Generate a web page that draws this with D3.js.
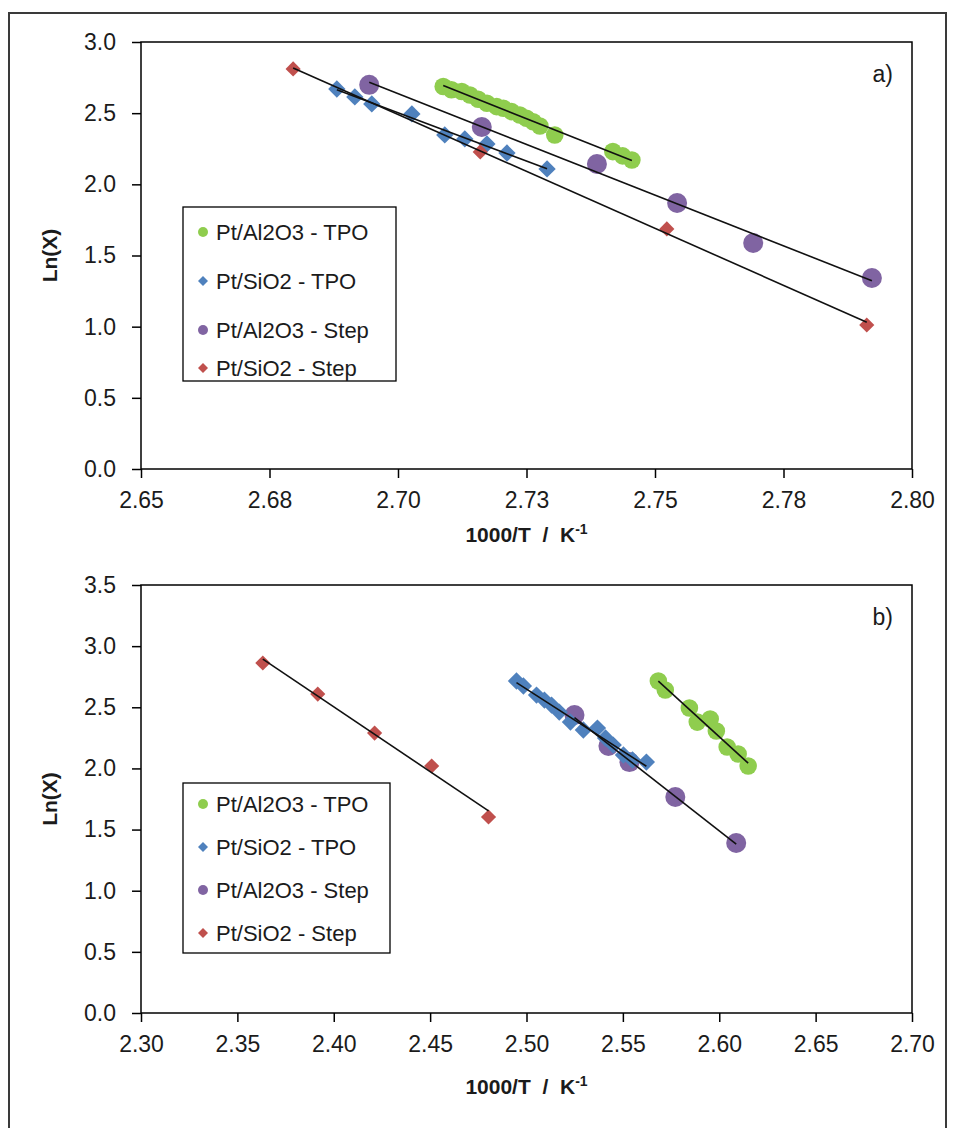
<!DOCTYPE html>
<html>
<head>
<meta charset="utf-8">
<script src="https://cdn.jsdelivr.net/npm/d3@7"></script>
<style>
  body { margin: 0; background: #fff; }
  svg text { font-family: "Liberation Sans", Arial, sans-serif; fill: #1b1b1b; }
  .tick text { font-size: 23px; }
</style>
</head>
<body>
<div id="chart"></div>
<script>
// legend order
const seriesNames = ["Pt/Al2O3 - TPO", "Pt/SiO2 - TPO", "Pt/Al2O3 - Step", "Pt/SiO2 - Step"];
const seriesColors = ["#8fcd4e", "#4f81bd", "#8064a2", "#c0504d"];
const seriesShapes = ["circle", "diamond", "circle", "diamond"];

// panel a)  [1000/T, Ln(X)]
const aAlTpo = [[2.7088,2.687],[2.7104,2.664],[2.7124,2.652],[2.7140,2.628],[2.7156,2.598],[2.7173,2.570],
  [2.7192,2.546],[2.7205,2.535],[2.7221,2.511],[2.7237,2.487],[2.7250,2.464],[2.7263,2.440],[2.7276,2.410],
  [2.7305,2.347],[2.7418,2.230],[2.7437,2.200],[2.7455,2.171]];
const aSiTpo = [[2.6881,2.670],[2.6916,2.614],[2.6949,2.565],[2.7027,2.495],[2.7091,2.347],[2.7130,2.319],
  [2.7173,2.284],[2.7212,2.220],[2.7290,2.108]];
const aAlStep = [[2.6944,2.699],[2.7163,2.403],[2.7387,2.143],[2.7543,1.869],[2.7691,1.588],[2.7922,1.342]];
const aSiStep = [[2.6796,2.811],[2.7160,2.228],[2.7523,1.687],[2.7912,1.012]];

// panel b)
const bAlTpo = [[2.5684,2.715],[2.5720,2.641],[2.5845,2.494],[2.5886,2.379],[2.5953,2.404],[2.5985,2.306],
  [2.6041,2.175],[2.6098,2.118],[2.6150,2.020]];
const bSiTpo = [[2.4948,2.715],[2.4984,2.674],[2.5052,2.600],[2.5093,2.559],[2.5130,2.518],[2.5170,2.461],
  [2.5228,2.379],[2.5295,2.314],[2.5368,2.330],[2.5410,2.249],[2.5450,2.191],[2.5503,2.110],[2.5550,2.069],
  [2.5622,2.052]];
const bAlStep = [[2.5249,2.437],[2.5425,2.183],[2.5534,2.052],[2.5772,1.766],[2.6088,1.390]];
const bSiStep = [[2.3632,2.862],[2.3917,2.608],[2.4212,2.289],[2.4508,2.020],[2.4803,1.603]];

// ticks
const aXTicks = [2.65, 2.675, 2.70, 2.725, 2.75, 2.775, 2.80];
const aXLabels = ["2.65", "2.68", "2.70", "2.73", "2.75", "2.78", "2.80"];
const aYTicks = [0, 0.5, 1.0, 1.5, 2.0, 2.5, 3.0];
const bXTicks = [2.30, 2.35, 2.40, 2.45, 2.50, 2.55, 2.60, 2.65, 2.70];
const bXLabels = ["2.30", "2.35", "2.40", "2.45", "2.50", "2.55", "2.60", "2.65", "2.70"];
const bYTicks = [0, 0.5, 1.0, 1.5, 2.0, 2.5, 3.0, 3.5];

const W = 956, H = 1128;

const svg = d3.select("#chart").append("svg")
    .attr("width", W)
    .attr("height", H);

svg.append("rect").attr("width", W).attr("height", H).attr("fill", "#fff");

// outer frame (bottom edge runs off the picture)
svg.append("rect")
    .attr("x", 9).attr("y", 13)
    .attr("width", 937).attr("height", H + 20)
    .attr("fill", "none")
    .attr("stroke", "#3a3a3a")
    .attr("stroke-width", 2);

const panels = [
    {tag: "a)", series: [aAlTpo, aSiTpo, aAlStep, aSiStep], xDomain: [2.65, 2.80], yDomain: [0, 3],
     xTicks: aXTicks, xLabels: aXLabels, yTicks: aYTicks,
     left: 141, right: 912, top: 42, bottom: 469,
     legend: {x: 183, y: 207, w: 213, h: 174, rows: [232, 281, 330, 368]}},
    {tag: "b)", series: [bAlTpo, bSiTpo, bAlStep, bSiStep], xDomain: [2.30, 2.70], yDomain: [0, 3.5],
     xTicks: bXTicks, xLabels: bXLabels, yTicks: bYTicks,
     left: 141, right: 912, top: 585, bottom: 1013,
     legend: {x: 183, y: 783, w: 207, h: 170, rows: [804, 847, 890, 933]}}
];

function markerPath(shape, big) {
    if (shape === "circle") return d3.symbol(d3.symbolCircle, big ? Math.PI * 9.5 * 9.5 : Math.PI * 5 * 5)();
    return d3.symbol(d3.symbolSquare, big ? 150 : 50)();
}
// per series marker size on the plot
const plotSizes = [Math.PI * 8.8 * 8.8, 150, Math.PI * 10 * 10, 115];

function fitLine(pts) {
    let n = pts.length;
    let mx = d3.mean(pts, d => d[0]);
    let my = d3.mean(pts, d => d[1]);
    let sxy = d3.sum(pts, d => (d[0] - mx) * (d[1] - my));
    let sxx = d3.sum(pts, d => (d[0] - mx) * (d[0] - mx));
    let slope = sxy / sxx;
    let x0 = d3.min(pts, d => d[0]), x1 = d3.max(pts, d => d[0]);
    return [[x0, my + slope * (x0 - mx)], [x1, my + slope * (x1 - mx)]];
}

panels.forEach(function (p) {
    let x = d3.scaleLinear().domain(p.xDomain).range([p.left, p.right]);
    let y = d3.scaleLinear().domain(p.yDomain).range([p.bottom, p.top]);

    // x axis
    let gx = svg.append("g")
        .attr("transform", `translate(0, ${p.bottom})`)
        .call(d3.axisBottom(x).tickValues(p.xTicks).tickFormat((d, i) => p.xLabels[i])
            .tickSizeInner(9).tickSizeOuter(0).tickPadding(14));
    gx.attr("font-size", null).attr("font-family", null);
    gx.select(".domain").remove();
    gx.selectAll(".tick line").attr("stroke", "#000").attr("stroke-width", 1.5);

    // y axis
    let gy = svg.append("g")
        .attr("transform", `translate(${p.left}, 0)`)
        .call(d3.axisLeft(y).tickValues(p.yTicks).tickFormat(d3.format(".1f"))
            .tickSizeInner(9).tickSizeOuter(0).tickPadding(16));
    gy.attr("font-size", null).attr("font-family", null);
    gy.select(".domain").remove();
    gy.selectAll(".tick line").attr("stroke", "#000").attr("stroke-width", 1.5);

    // plot area frame
    svg.append("rect")
        .attr("x", p.left).attr("y", p.top)
        .attr("width", p.right - p.left).attr("height", p.bottom - p.top)
        .attr("fill", "none")
        .attr("stroke", "#000")
        .attr("stroke-width", 1.5);

    // markers, purple first so the diamonds sit on top
    [2, 0, 1, 3].forEach(function (si) {
        svg.append("g").selectAll("path")
            .data(p.series[si])
            .enter()
            .append("path")
            .attr("d", seriesShapes[si] === "circle"
                ? d3.symbol(d3.symbolCircle, plotSizes[si])()
                : d3.symbol(d3.symbolSquare, plotSizes[si])())
            .attr("transform", d => `translate(${x(d[0])}, ${y(d[1])})` + (seriesShapes[si] === "diamond" ? " rotate(45)" : ""))
            .attr("fill", seriesColors[si]);
    });

    // trendlines
    p.series.forEach(function (s) {
        let seg = fitLine(s);
        svg.append("line")
            .attr("x1", x(seg[0][0])).attr("y1", y(seg[0][1]))
            .attr("x2", x(seg[1][0])).attr("y2", y(seg[1][1]))
            .attr("stroke", "#111")
            .attr("stroke-width", 1.6);
    });

    // panel tag
    svg.append("text")
        .attr("x", 893).attr("y", p.top + 32)
        .attr("dy", "0.35em")
        .attr("text-anchor", "end")
        .attr("font-size", 23)
        .text(p.tag);

    // axis titles
    svg.append("text")
        .attr("transform", `translate(50, ${(p.top + p.bottom) / 2}) rotate(-90)`)
        .attr("text-anchor", "middle")
        .attr("dy", "0.35em")
        .attr("font-size", 21)
        .attr("font-weight", "bold")
        .text("Ln(X)");

    let xt = svg.append("text")
        .attr("x", (p.left + p.right) / 2)
        .attr("y", p.bottom + (p.tag === "a)" ? 73 : 81))
        .attr("text-anchor", "middle")
        .attr("font-size", 21)
        .attr("font-weight", "bold");
    xt.append("tspan").text("1000/T\u00a0\u00a0/\u00a0\u00a0K");
    xt.append("tspan").attr("dy", -8).attr("font-size", 14).text("-1");

    // legend
    let lg = svg.append("g");
    lg.append("rect")
        .attr("x", p.legend.x).attr("y", p.legend.y)
        .attr("width", p.legend.w).attr("height", p.legend.h)
        .attr("fill", "#fff")
        .attr("stroke", "#000")
        .attr("stroke-width", 1.3);
    seriesNames.forEach(function (name, i) {
        let ry = p.legend.rows[i];
        lg.append("path")
            .attr("d", markerPath(seriesShapes[i], false))
            .attr("transform", `translate(${p.legend.x + 20}, ${ry})` + (seriesShapes[i] === "diamond" ? " rotate(45)" : ""))
            .attr("fill", seriesColors[i]);
        lg.append("text")
            .attr("x", p.legend.x + 33)
            .attr("y", ry)
            .attr("dy", "0.35em")
            .attr("font-size", 22)
            .text(name);
    });
});
</script>
</body>
</html>
